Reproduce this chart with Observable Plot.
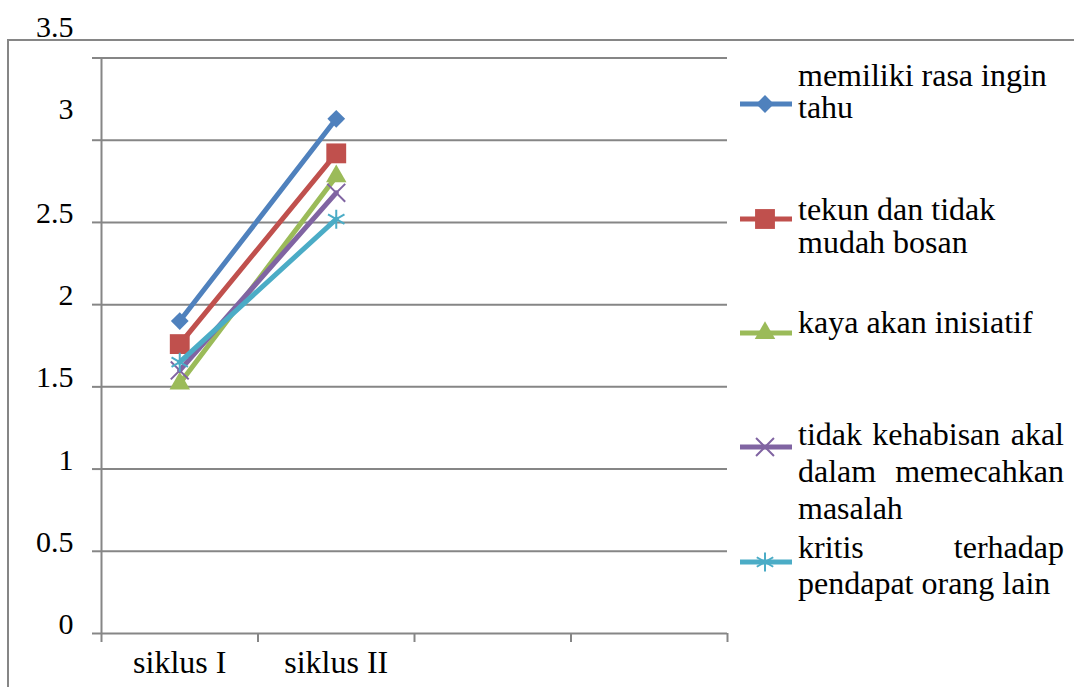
<!DOCTYPE html>
<html><head><meta charset="utf-8">
<script src="https://cdn.jsdelivr.net/npm/d3@7"></script>
<script src="https://cdn.jsdelivr.net/npm/@observablehq/plot@0.6"></script>
<style>
body{margin:0;background:#fff;}
#wrap{position:relative;width:1074px;height:687px;overflow:hidden;font-family:"Liberation Serif","Times New Roman",serif;background:#fff;}
#border{position:absolute;left:7px;top:39px;width:2000px;height:2000px;border-left:2px solid #868686;border-top:2px solid #868686;}
#chart{position:absolute;left:0;top:0;}
.sw{position:absolute;left:738px;}
.ln{position:absolute;left:798px;width:266px;font-size:32px;color:#000;}
.just{text-align:justify;}
</style></head>
<body><div id="wrap"><div id="border"></div><div id="chart"></div><div id="legend"></div></div>
<script>
// ---- data ----
const categories = ["siklus I", "siklus II"];
const slotCount = 4;
const seriesNames = [
  "memiliki rasa ingin tahu",
  "tekun dan tidak mudah bosan",
  "kaya akan inisiatif",
  "tidak kehabisan akal dalam memecahkan masalah",
  "kritis terhadap pendapat orang lain"
];
const rasaIngin   = [1.90, 3.13];
const tekun       = [1.76, 2.92];
const kaya        = [1.52, 2.78];
const tidakHabis  = [1.60, 2.68];
const kritis      = [1.65, 2.52];
const seriesValues = [rasaIngin, tekun, kaya, tidakHabis, kritis];
const yTicks = [0, 0.5, 1, 1.5, 2, 2.5, 3, 3.5];
const legendJustify = [false, false, false, true, true];

// ---- styles ----
const colors = ["#4F81BD", "#C0504D", "#9BBB59", "#8064A2", "#4BACC6"];
const symbols = ["diamond2", "square", "triangle", "times", "asterisk"];
const radii = [8, 11.2, 7.6, 8.2, 9];
const filled = [true, true, true, false, false];
const gray = "#868686";

const rows = seriesNames.flatMap((s, si) =>
  seriesValues[si].map((v, ci) => ({series: s, si, cat: categories[ci], pos: ci + 0.5, value: v})));

const seriesMarks = seriesNames.flatMap((s, si) => {
  const data = rows.filter(d => d.si === si);
  return [
    Plot.line(data, {x: "pos", y: "value", stroke: colors[si], strokeWidth: 5}),
    Plot.dot(data, {x: "pos", y: "value", symbol: () => symbols[si], r: radii[si],
      fill: filled[si] ? colors[si] : "none", stroke: filled[si] ? "none" : colors[si], strokeWidth: 2})
  ];
});

const chart = Plot.plot({
  width: 1074, height: 687,
  marginLeft: 101, marginRight: 347, marginTop: 57.5, marginBottom: 54,
  x: {type: "linear", domain: [0, slotCount], axis: null},
  y: {domain: [0, 3.5], axis: null},
  symbol: {type: "identity"},
  style: {fontFamily: "'Liberation Serif','Times New Roman',serif", fontSize: "30px", color: "#000", background: "transparent", overflow: "visible"},
  marks: [
    Plot.gridY(yTicks.filter(t => t > 0), {stroke: gray, strokeOpacity: 1, strokeWidth: 2}),
    Plot.ruleY([0], {stroke: gray, strokeWidth: 2}),
    Plot.ruleX([0], {stroke: gray, strokeWidth: 2}),
    Plot.axisY(yTicks, {anchor: "left", tickSize: 9, stroke: gray, strokeWidth: 2, tickFormat: () => "", label: null}),
    Plot.axisY(yTicks.filter(t => t < 3), {anchor: "left", tickSize: 0, tickPadding: 28, dy: -9, fill: "#000", fontSize: 30, tickFormat: d => String(d), label: null}),
    Plot.axisY(yTicks.filter(t => t >= 3), {anchor: "left", tickSize: 0, tickPadding: 28, dy: -31, fill: "#000", fontSize: 30, tickFormat: d => String(d), label: null}),
    Plot.axisX(d3.range(slotCount + 1), {anchor: "bottom", tickSize: 9, stroke: gray, strokeWidth: 2, tickFormat: () => "", label: null}),
    Plot.axisX(categories.map((c, i) => i + 0.5), {anchor: "bottom", tickSize: 0, tickPadding: 17, fill: "#000", fontSize: 32, tickFormat: d => categories[Math.floor(d)], label: null}),
    ...seriesMarks
  ]
});
document.getElementById("chart").appendChild(chart);

// ---- legend ----
const legend = document.getElementById("legend");
const swatchY = [104, 219, 333, 447, 562];
const firstLineY = [74, 209, 321, 434, 546];
const lineHeights = [32, 33, 32, 37, 36];
const symMap = {diamond2: d3.symbolDiamond2, square: d3.symbolSquare, triangle: d3.symbolTriangle, times: d3.symbolTimes, asterisk: d3.symbolAsterisk};
seriesNames.forEach((s, si) => {
  const svg = d3.create("svg").attr("class", "sw").attr("width", 56).attr("height", 30)
    .style("top", (swatchY[si] - 15) + "px");
  svg.append("line").attr("x1", 2).attr("x2", 54).attr("y1", 15).attr("y2", 15)
    .attr("stroke", colors[si]).attr("stroke-width", 5);
  svg.append("path").attr("transform", "translate(27,15)")
    .attr("d", d3.symbol(symMap[symbols[si]], Math.PI * radii[si] * radii[si])())
    .attr("fill", filled[si] ? colors[si] : "none")
    .attr("stroke", filled[si] ? "none" : colors[si]).attr("stroke-width", 2);
  legend.appendChild(svg.node());
  const div = document.createElement("div");
  div.className = "ln" + (legendJustify[si] ? " just" : "");
  const L = lineHeights[si];
  div.style.lineHeight = L + "px";
  div.style.top = (firstLineY[si] - L / 2 + 0.5) + "px";
  div.textContent = s;
  legend.appendChild(div);
});
</script></body></html>
